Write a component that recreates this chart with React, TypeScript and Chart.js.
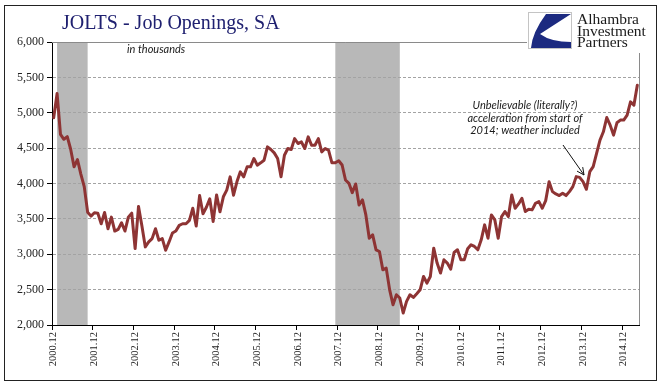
import React, { useEffect, useRef } from "react";
import { Chart, registerables } from "chart.js";

Chart.register(...registerables);

// ---- data ----
const START_YEAR = 2000;
const START_MONTH = 12;

const JOB_OPENINGS = [
  4930, 5271, 4695, 4625, 4662, 4484, 4236, 4339, 4133, 3956, 3595, 3539,
  3586, 3581, 3431, 3591, 3361, 3525, 3328, 3352, 3445, 3328, 3525, 3581,
  3080, 3675, 3400, 3104, 3174, 3221, 3361, 3198, 3221, 3057, 3174, 3300,
  3328, 3408, 3431, 3431, 3478, 3651, 3399, 3829, 3572, 3665, 3782, 3464,
  3839, 3600, 3812, 3906, 4094, 3835, 4024, 4165, 4094, 4235, 4235, 4353,
  4259, 4292, 4329, 4518, 4480, 4433, 4353, 4094, 4400, 4494, 4480, 4635,
  4565, 4588, 4494, 4659, 4541, 4541, 4635, 4447, 4494, 4471, 4292, 4294,
  4322, 4261, 4050, 4002, 3871, 3993, 3697, 3768, 3556, 3227, 3274, 3063,
  3039, 2780, 2804, 2500, 2287, 2428, 2381, 2170, 2334, 2428, 2390, 2442,
  2498, 2686, 2592, 2686, 3086, 2875, 2734, 2922, 2875, 2790, 3025, 3063,
  2922, 2922, 3077, 3133, 3110, 3063, 3204, 3415, 3227, 3556, 3486, 3227,
  3533, 3603, 3533, 3838, 3650, 3711, 3791, 3603, 3636, 3627, 3721, 3744,
  3650, 3758, 4026, 3885, 3852, 3829, 3862, 3829, 3885, 3956, 4097, 4087,
  4026, 3918, 4167, 4238, 4426, 4613, 4731, 4933, 4825, 4684, 4858, 4896,
  4896, 4966, 5154, 5107, 5389,
];

const TICK_LABELS = [
  "2000.12", "2001.12", "2002.12", "2003.12", "2004.12", "2005.12", "2006.12", "2007.12",
  "2008.12", "2009.12", "2010.12", "2011.12", "2012.12", "2013.12", "2014.12",
];

const RECESSION_START = ["2001.01", "2007.11"];
const RECESSION_END = ["2001.10", "2009.06"];

const Y_MIN = 2000;
const Y_MAX = 6000;
const Y_STEP = 500;

const TITLE = "JOLTS - Job Openings, SA";
const UNITS_NOTE = "in thousands";
const NOTE_LINES = ["Unbelievable (literally?)", "acceleration from start of", "2014; weather included"];
const LOGO_LINES = ["Alhambra", "Investment", "Partners"];

const MONTH_LABELS = JOB_OPENINGS.map((_, i) => {
  const m0 = START_MONTH - 1 + i;
  const y = START_YEAR + Math.floor(m0 / 12);
  const m = (m0 % 12) + 1;
  return `${y}.${String(m).padStart(2, "0")}`;
});

const LINE_COLOR = "#8e3434";
const SERIF = "'Liberation Serif', 'Times New Roman', serif";
const SANS = "Lato, 'Liberation Sans', sans-serif";

const decorPlugin = {
  id: "decor",
  beforeDraw(chart: any) {
    const { ctx, chartArea: a } = chart;
    const x = chart.scales.x;
    ctx.save();
    ctx.fillStyle = "#ffffff";
    ctx.fillRect(0, 0, chart.width, chart.height);
    ctx.fillStyle = "#b8b8b8";
    RECESSION_START.forEach((s, k) => {
      const x0 = x.getPixelForValue(MONTH_LABELS.indexOf(s));
      const x1 = x.getPixelForValue(MONTH_LABELS.indexOf(RECESSION_END[k]));
      ctx.fillRect(x0, a.top, x1 - x0, a.bottom - a.top);
    });
    ctx.restore();
  },
  afterDraw(chart: any) {
    const { ctx, chartArea: a } = chart;
    ctx.save();
    // plot border (top and right)
    ctx.strokeStyle = "#8a8a8a";
    ctx.lineWidth = 1;
    ctx.beginPath();
    ctx.moveTo(a.left, Math.round(a.top) + 0.5);
    ctx.lineTo(a.right + 0.5, Math.round(a.top) + 0.5);
    ctx.lineTo(a.right + 0.5, a.bottom);
    ctx.stroke();

    // logo area
    ctx.fillStyle = "#ffffff";
    ctx.fillRect(527, 7, 127, 46);
    ctx.strokeStyle = "#c4c4c4";
    ctx.strokeRect(528.5, 12.5, 43, 36);
    ctx.fillStyle = "#1c2a80";
    ctx.beginPath();
    ctx.moveTo(546, 14);
    ctx.lineTo(571, 14);
    ctx.lineTo(540, 34);
    ctx.quadraticCurveTo(551, 42, 571, 42);
    ctx.lineTo(571, 48);
    ctx.lineTo(531, 48);
    ctx.quadraticCurveTo(532, 33, 546, 14);
    ctx.fill();
    ctx.fillStyle = "#1a1a1a";
    ctx.font = `15.5px ${SERIF}`;
    ctx.textAlign = "left";
    ctx.textBaseline = "alphabetic";
    LOGO_LINES.forEach((t, i) => ctx.fillText(t, 577, 24 + i * 11.6));

    // title
    ctx.fillStyle = "#1f2070";
    ctx.font = `20px ${SERIF}`;
    ctx.fillText(TITLE, 62, 29);

    // units note
    ctx.fillStyle = "#1a1a1a";
    ctx.font = `italic 11px ${SANS}`;
    ctx.fillText(UNITS_NOTE, 127, 53);

    // annotation
    ctx.textAlign = "center";
    ctx.font = `italic 11px ${SANS}`;
    NOTE_LINES.forEach((t, i) => ctx.fillText(t, 525, 109 + i * 12.7));

    // arrow
    const x0 = 563, y0 = 145, x1 = 584, y1 = 175;
    ctx.strokeStyle = "#111";
    ctx.lineWidth = 1;
    ctx.beginPath();
    ctx.moveTo(x0, y0);
    ctx.lineTo(x1, y1);
    const ang = Math.atan2(y1 - y0, x1 - x0);
    const hl = 8;
    ctx.moveTo(x1, y1);
    ctx.lineTo(x1 - hl * Math.cos(ang - 0.45), y1 - hl * Math.sin(ang - 0.45));
    ctx.moveTo(x1, y1);
    ctx.lineTo(x1 - hl * Math.cos(ang + 0.45), y1 - hl * Math.sin(ang + 0.45));
    ctx.stroke();

    // outer frame
    ctx.strokeStyle = "#222";
    ctx.lineWidth = 1;
    ctx.strokeRect(4.5, 5.5, 652, 375);
    ctx.restore();
  },
};

export default function App() {
  const ref = useRef<HTMLCanvasElement | null>(null);

  useEffect(() => {
    if (!ref.current) return;
    const isTick = (i: number) => TICK_LABELS.includes(MONTH_LABELS[i]);
    const chart = new Chart(ref.current, {
      type: "line",
      data: {
        labels: MONTH_LABELS,
        datasets: [
          {
            data: JOB_OPENINGS,
            borderColor: LINE_COLOR,
            borderWidth: 3,
            pointRadius: 0,
            tension: 0,
            fill: false,
            borderJoinStyle: "round",
            borderCapStyle: "round",
          },
        ],
      },
      options: {
        responsive: false,
        animation: false,
        devicePixelRatio: 1,
        layout: { padding: { left: 0, right: 30, top: 42, bottom: 0 } },
        plugins: {
          legend: { display: false },
          tooltip: { enabled: false },
        },
        scales: {
          x: {
            type: "category",
            offset: true,
            grid: {
              offset: true,
              drawOnChartArea: false,
              drawTicks: true,
              tickLength: 5,
              color: (c: any) => (isTick(c.index) ? "#000" : "transparent"),
              tickColor: (c: any) => (isTick(c.index) ? "#000" : "transparent"),
            },
            border: { display: true, color: "#000", width: 1 },
            ticks: {
              autoSkip: false,
              minRotation: 90,
              maxRotation: 90,
              padding: 2,
              color: "#222",
              font: { family: SERIF, size: 10.5 },
              callback: (_v: any, i: number) => (isTick(i) ? MONTH_LABELS[i] : ""),
            },
            afterFit: (s: any) => {
              s.height = 67;
            },
          },
          y: {
            min: Y_MIN,
            max: Y_MAX,
            grid: {
              color: (c: any) =>
                c.tick && c.tick.value > Y_MIN && c.tick.value < Y_MAX ? "#a3a3a3" : "transparent",
              tickColor: "#000",
              tickLength: 5,
              drawTicks: true,
            },
            border: { display: true, color: "#000", width: 1, dash: [3, 2] },
            ticks: {
              stepSize: Y_STEP,
              padding: 3,
              color: "#222",
              font: { family: SERIF, size: 12 },
              callback: (v: any) => Number(v).toLocaleString("en-US"),
            },
            afterFit: (s: any) => {
              s.width = 52;
            },
          },
        },
      },
      plugins: [decorPlugin],
    });
    return () => chart.destroy();
  }, []);

  return (
    <div style={{ position: "absolute", left: 0, top: 0, width: 669, height: 392, background: "#fff" }}>
      <canvas ref={ref} width={669} height={392} style={{ width: 669, height: 392, display: "block" }} />
    </div>
  );
}
